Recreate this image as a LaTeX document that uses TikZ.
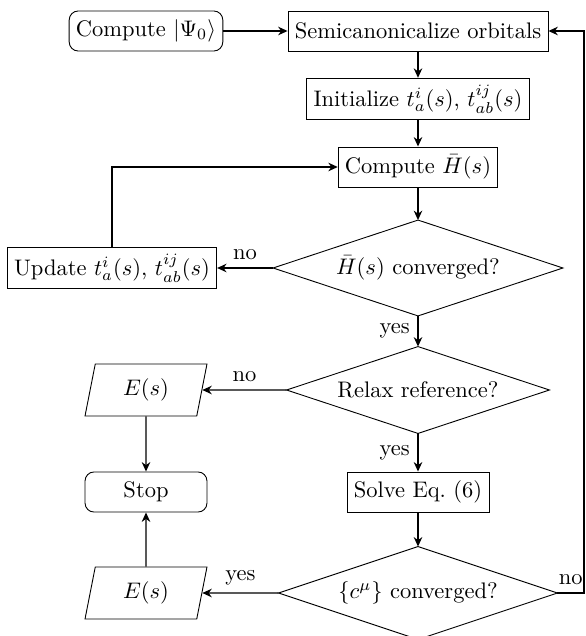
\documentclass[tikz,border=0pt]{standalone}
\usetikzlibrary{shapes.geometric,arrows.meta}
\begin{document}
\begin{tikzpicture}[x=0.4444pt,y=-0.4444pt,
  box/.style={draw,rectangle,minimum height=17.8pt,inner sep=3pt},
  rbox/.style={draw,rectangle,rounded corners=4pt,minimum height=17.8pt,inner sep=3pt},
  dec/.style={rectangle,inner sep=0pt},
  io/.style={draw,trapezium,trapezium left angle=72,trapezium right angle=108,trapezium stretches body,minimum width=54.2pt,minimum height=23.1pt,inner sep=2pt},
  arr/.style={-{Stealth[length=4.2pt,width=3.8pt]},semithick},
  lab/.style={font=\normalsize}]
\useasboundingbox (0,0) rectangle (586,636);
\node[rbox] (psi) at (146,31) {Compute $|\Psi_0\rangle$};
\node[box] (semi) at (418,31) {Semicanonicalize orbitals};
\node[box] (init) at (418,99) {Initialize $t_a^i(s)$, $t_{ab}^{ij}(s)$};
\node[box] (hbar) at (418,167) {Compute $\bar{H}(s)$};
\node[dec,minimum width=128.4pt,minimum height=42.2pt] (d1) at (418,268) {$\bar{H}(s)$ converged?};
\node[box] (upd) at (112,268) {Update $t_a^i(s)$, $t_{ab}^{ij}(s)$};
\node[dec,minimum width=116.4pt,minimum height=38.2pt] (d2) at (418,390) {Relax reference?};
\node[io] (e1) at (146,390) {$E(s)$};
\node[rbox,minimum width=54.2pt] (stop) at (146,492) {Stop};
\node[box] (solve) at (418,492) {Solve Eq.~(6)};
\node[dec,minimum width=123.5pt,minimum height=40.9pt] (d3) at (418,593) {$\{c^\mu\}$ converged?};
\node[io] (e2) at (146,593) {$E(s)$};
\foreach \d in {d1,d2,d3}
  \draw (\d.north) -- (\d.east) -- (\d.south) -- (\d.west) -- cycle;
\coordinate (rt) at (584,593);
\draw[arr] (psi) -- (semi);
\draw[arr] (semi) -- (init);
\draw[arr] (init) -- (hbar);
\draw[arr] (hbar.south) -- (d1.north);
\draw[arr] (d1.west) -- node[above,lab]{no} (upd.east);
\draw[arr] (upd.north) |- (hbar.west);
\draw[arr] (d1.south) -- node[left,lab]{yes} (d2.north);
\draw[arr] (d2.west) -- node[above,lab]{no} (e1.east);
\draw[arr] (e1) -- (stop);
\draw[arr] (d2.south) -- node[left,lab]{yes} (solve.north);
\draw[arr] (solve.south) -- (d3.north);
\draw[arr] (d3.west) -- node[above,lab]{yes} (e2.east);
\draw[arr] (e2) -- (stop);
\draw[arr] (d3.east) -- node[above,lab]{no} (rt) |- (semi.east);
\end{tikzpicture}
\end{document}
